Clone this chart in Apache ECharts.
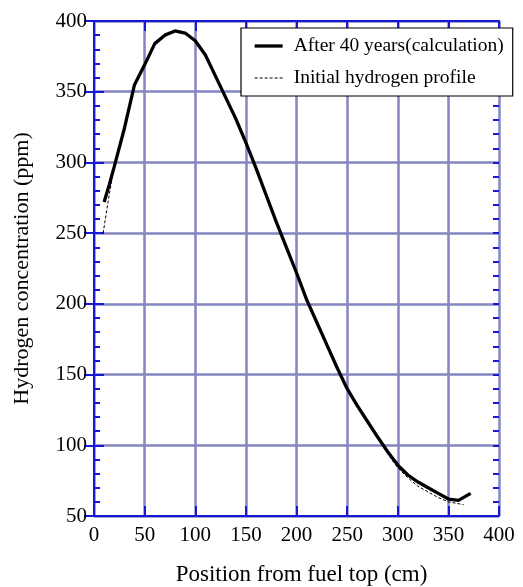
<!DOCTYPE html>
<html lang="en">
<head>
    <meta charset="UTF-8">
    <title>Hydrogen Concentration</title>
    <script src="https://cdn.jsdelivr.net/npm/echarts@6/dist/echarts.min.js"></script>
    <style>
        html, body { margin: 0; padding: 0; background: #fff; }
        #main { width: 523px; height: 587px; }
    </style>
</head>
<body>
    <div id="main"></div>
    <script>
        // After 40 years (calculation)
        const calcPos = [10, 15, 20, 30, 40, 50, 60, 70, 80, 90, 100, 110, 120, 130, 140, 150, 160, 170, 180, 190,
            200, 210, 220, 230, 240, 250, 260, 270, 280, 290, 300, 310, 320, 330, 340, 350, 360, 372];
        const calcConc = [272, 284, 297, 324, 355, 369, 384, 390, 393, 391.5, 386, 376, 361, 346, 331, 314, 296, 277, 258, 240,
            222, 203, 187, 171, 155, 140, 128, 117, 106, 95.5, 86, 79, 74, 70, 66, 62, 61, 66];

        // Initial hydrogen profile
        const initPos = [9, 15, 20, 30, 40, 50, 60, 70, 80, 90, 100, 110, 120, 130, 140, 150, 160, 170, 180, 190,
            200, 210, 220, 230, 240, 250, 260, 270, 280, 290, 300, 310, 320, 330, 340, 350, 358, 365];
        const initConc = [250, 277, 297, 324, 355, 369, 384, 390, 393, 391.5, 386, 376, 361, 346, 331, 314, 296, 277, 258, 240,
            222, 203, 187, 171, 155, 140, 128, 117, 105, 94, 84, 77, 71, 67, 63, 60, 59, 58];

        const seriesNames = ['After 40 years(calculation)', 'Initial hydrogen profile'];

        const chart = echarts.init(document.getElementById('main'));
        const font = 'Liberation Serif';
        const axisBlue = '#1717d6';
        const gridColor = '#8585c2';

        const pairs = (xs, ys) => xs.map((x, i) => [x, ys[i]]);

        // bare y axis used only to draw the small inward ticks every 10 ppm
        const minorTickAxis = (pos) => ({
            type: 'value',
            position: pos,
            min: 50, max: 400, interval: 10,
            axisLine: { show: false },
            axisTick: { show: true, inside: true, length: 6, lineStyle: { color: axisBlue, width: 2 } },
            axisLabel: { show: false },
            splitLine: { show: false }
        });

        const option = {
            animation: false,
            backgroundColor: '#fff',
            grid: { left: 94, right: 24, top: 21, bottom: 71, outerBoundsMode: 'none', containLabel: false },
            legend: {
                data: [
                    { name: seriesNames[0], lineStyle: { width: 3.3 } },
                    { name: seriesNames[1], lineStyle: { width: 1 } }
                ],
                orient: 'vertical',
                left: 241,
                top: 28,
                padding: [8, 9, 8, 12],
                itemGap: 12,
                itemWidth: 28,
                itemHeight: 18,
                backgroundColor: '#fff',
                borderColor: '#000',
                borderWidth: 1.2,
                itemStyle: { opacity: 0 },
                textStyle: { fontFamily: font, fontSize: 19.5, color: '#000', padding: [0, 0, 0, 6] }
            },
            xAxis: [{
                type: 'value',
                min: 0, max: 400, interval: 50,
                name: 'Position from fuel top (cm)',
                nameLocation: 'middle',
                nameGap: 47,
                nameTextStyle: { fontFamily: font, fontSize: 23, color: '#000', padding: [0, 0, 0, 10] },
                axisLine: { lineStyle: { color: axisBlue, width: 2 } },
                axisTick: { inside: true, length: 10, lineStyle: { color: axisBlue, width: 2 } },
                axisLabel: { fontFamily: font, fontSize: 21, color: '#000', margin: 9 },
                splitLine: { show: true, lineStyle: { color: gridColor, width: 2.5 } }
            }, {
                type: 'value',
                position: 'top',
                min: 0, max: 400, interval: 50,
                axisLine: { lineStyle: { color: axisBlue, width: 2 } },
                axisTick: { inside: true, length: 10, lineStyle: { color: axisBlue, width: 2 } },
                axisLabel: { show: false },
                splitLine: { show: false }
            }],
            yAxis: [{
                type: 'value',
                min: 50, max: 400, interval: 50,
                name: 'Hydrogen concentration (ppm)',
                nameLocation: 'middle',
                nameGap: 61,
                nameTextStyle: { fontFamily: font, fontSize: 22, color: '#000' },
                axisLine: { show: true, lineStyle: { color: axisBlue, width: 2 } },
                axisTick: { show: true, inside: true, length: 10, lineStyle: { color: axisBlue, width: 2 } },
                axisLabel: { fontFamily: font, fontSize: 21, color: '#000', margin: 7 },
                splitLine: { show: true, lineStyle: { color: gridColor, width: 2.5 } }
            }, {
                type: 'value',
                position: 'right',
                min: 50, max: 400, interval: 50,
                axisLine: { show: true, lineStyle: { color: axisBlue, width: 2 } },
                axisTick: { show: true, inside: true, length: 10, lineStyle: { color: axisBlue, width: 2 } },
                axisLabel: { show: false },
                splitLine: { show: false }
            }, minorTickAxis('left'), minorTickAxis('right')],
            series: [{
                name: seriesNames[1],
                type: 'line',
                symbol: 'none',
                z: 3,
                lineStyle: { color: '#000', width: 1, type: [3, 2] },
                itemStyle: { color: '#000' },
                data: pairs(initPos, initConc)
            }, {
                name: seriesNames[0],
                type: 'line',
                symbol: 'none',
                z: 4,
                lineStyle: { color: '#000', width: 3.3 },
                itemStyle: { color: '#000' },
                data: pairs(calcPos, calcConc)
            }]
        };

        chart.setOption(option);
    </script>
</body>
</html>
